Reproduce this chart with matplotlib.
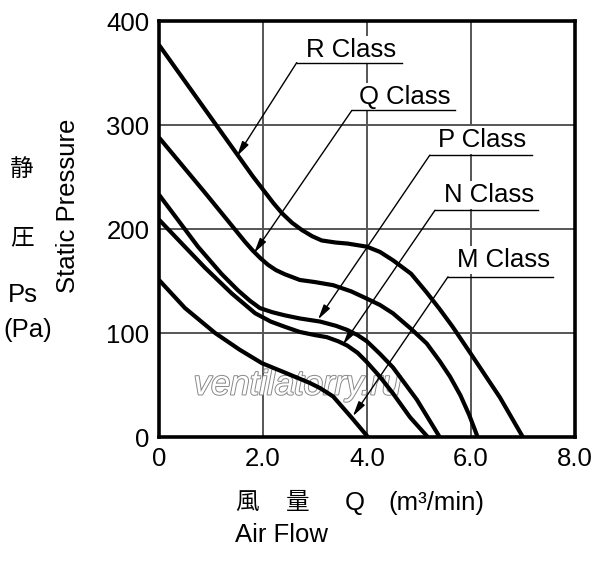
import numpy as np
import matplotlib.pyplot as plt
import matplotlib.patheffects as pe

# ---------- data ----------
r_x = [0, 0.5, 1.0, 1.5, 1.8, 2.0, 2.2, 2.37, 2.56, 2.75, 2.95, 3.13, 3.4, 3.63, 4.0, 4.25, 4.5, 4.85, 5.15, 5.4, 5.65, 6.04, 6.56, 7.0]
r_y = [377, 342, 307, 272, 251, 238, 225, 215, 206, 199, 193, 189, 187, 186, 183, 178, 170, 157, 139, 123, 106, 77, 38, 0]

q_x = [0, 0.9, 1.65, 1.8, 1.95, 2.1, 2.25, 2.42, 2.71, 3.0, 3.35, 3.7, 4.0, 4.25, 4.5, 4.85, 5.15, 5.4, 5.6, 5.8, 5.97, 6.13]
q_y = [288, 234, 188, 179.5, 172, 165.5, 160.5, 156.5, 151, 149, 146, 140, 133, 127, 119, 104, 90, 73, 58, 40, 21, 0]

p_x = [0, 0.75, 1.2, 1.52, 1.75, 1.94, 2.18, 2.42, 2.71, 3.1, 3.4, 3.62, 3.82, 4.0, 4.25, 4.5, 4.96, 5.40]
p_y = [233, 183, 157, 141, 131, 124, 120, 117, 114, 111, 107, 103, 98, 92, 80, 67, 36, 0]

n_x = [0, 0.88, 1.4, 1.85, 2.15, 2.42, 2.71, 3.0, 3.23, 3.45, 3.62, 3.82, 4.0, 4.25, 4.5, 4.83, 5.17]
n_y = [209, 163, 138, 119, 111, 106, 101, 98, 96, 92, 88, 81, 72, 58, 42, 19, 0]

m_x = [0, 0.5, 1.08, 1.55, 1.98, 2.42, 2.9, 3.1, 3.35, 3.7, 4.02]
m_y = [151, 124, 100, 84, 71, 62, 52, 47, 39, 19, 0]

class_names = ['R Class', 'Q Class', 'P Class', 'N Class', 'M Class']
x_ticks = [0, 2, 4, 6, 8]
x_tick_labels = ['0', '2.0', '4.0', '6.0', '8.0']
y_ticks = [0, 100, 200, 300, 400]

# label layout: (text x, text y, underline x0, underline x1, underline y, arrow tip x, arrow tip y)
label_layout = [
    (3.69, 372, 2.65, 4.67, 360, 1.50, 270),
    (4.73, 327, 3.71, 5.69, 314, 1.83, 177),
    (6.21, 286, 5.21, 7.17, 271, 3.06, 113),
    (6.35, 233, 5.31, 7.29, 218, 3.54, 89),
    (6.62, 170, 5.56, 7.58, 154, 3.73, 20),
]

fam = ['Liberation Sans', 'Noto Sans CJK JP', 'DejaVu Sans']
plt.rcParams['font.family'] = fam

fig = plt.figure(figsize=(6.0, 5.62), dpi=100)
ax = fig.add_axes([0.265, 0.2224, 0.693, 0.7402])

for xs, ys in [(r_x, r_y), (q_x, q_y), (p_x, p_y), (n_x, n_y), (m_x, m_y)]:
    ax.plot(xs, ys, color='black', lw=3.0, solid_joinstyle='round',
            solid_capstyle='butt', zorder=4)

ax.set_xlim(0, 8)
ax.set_ylim(0, 400)
ax.set_xticks(x_ticks)
ax.set_xticklabels(x_tick_labels)
ax.set_yticks(y_ticks)
ax.tick_params(length=0, labelsize=18.5, pad=7)
ax.grid(True, color='#555555', lw=1.4, zorder=1)
ax.set_axisbelow(True)
for sp in ax.spines.values():
    sp.set_linewidth(2.6)
    sp.set_zorder(6)

# watermark
ax.text(2.67, 50, 'ventilatorry.ru', fontsize=25, style='italic', color='white',
        ha='center', va='center', zorder=3,
        path_effects=[pe.withStroke(linewidth=1.4, foreground='#888888')])

# class labels with leaders
for name, (tx, ty, ux0, ux1, uy, ax_, ay) in zip(class_names, label_layout):
    ax.text(tx, ty, name, fontsize=18.5, ha='center', va='center', zorder=7,
            bbox=dict(fc='white', ec='none', pad=1.5))
    ax.plot([ux0, ux1], [uy, uy], color='black', lw=1.0, zorder=7)
    ax.annotate('', xy=(ax_, ay), xytext=(ux0, uy), zorder=7,
                arrowprops=dict(arrowstyle='-|>,head_length=0.9,head_width=0.22',
                                lw=1.0, color='black', shrinkA=0, shrinkB=0))

# y axis labels
fig.text(68 / 600, 1 - 206 / 562, 'Static Pressure', rotation=90, fontsize=18.5,
         ha='center', va='center')
fig.text(22 / 600, 1 - 170 / 562, '静', fontsize=17, ha='center', va='center')
fig.text(22 / 600, 1 - 238 / 562, '圧', fontsize=17, ha='center', va='center')
fig.text(23 / 600, 1 - 295 / 562, 'Ps', fontsize=18.5, ha='center', va='center')
fig.text(28 / 600, 1 - 330 / 562, '(Pa)', fontsize=18.5, ha='center', va='center')

# x axis labels
fig.text(247 / 600, 1 - 503 / 562, '風', fontsize=17, ha='center', va='center')
fig.text(298 / 600, 1 - 503 / 562, '量', fontsize=17, ha='center', va='center')
fig.text(355 / 600, 1 - 503 / 562, 'Q', fontsize=18.5, ha='center', va='center')
fig.text(388 / 600, 1 - 503 / 562, '(m³/min)', fontsize=18.5, ha='left', va='center')
fig.text(235 / 600, 1 - 535 / 562, 'Air Flow', fontsize=18.5, ha='left', va='center')

fig.savefig('out.png', dpi=100)
